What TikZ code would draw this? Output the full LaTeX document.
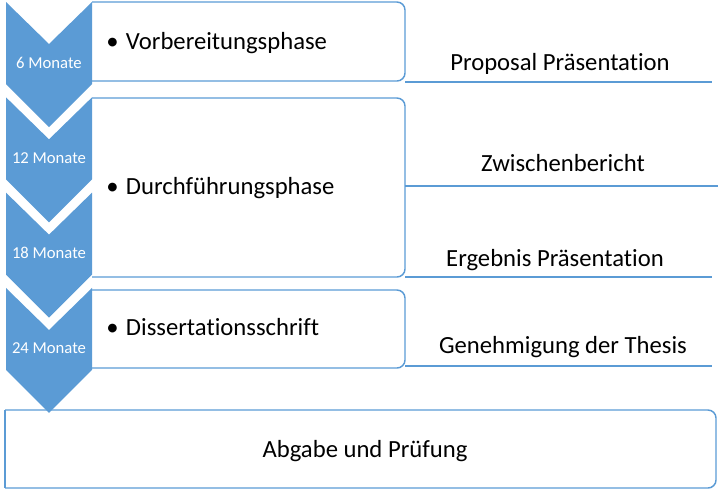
\documentclass[tikz,border=0pt]{standalone}
\usepackage{fontspec}
\setmainfont[Ligatures=NoCommon]{Carlito}
\definecolor{chevblue}{RGB}{91,155,213}

\begin{document}
\begin{tikzpicture}[x=0.75pt, y=-0.75pt,
    chevron/.style={fill=chevblue, draw=none},
    phasebox/.style={draw=chevblue, line width=1.1pt, rounded corners=6pt},
    monthlabel/.style={text=white, font=\fontsize{12.5}{14}\selectfont, anchor=base, inner sep=0},
    phasetext/.style={font=\fontsize{18.5}{22}\selectfont, anchor=base west, inner sep=0},
    milestone/.style={font=\fontsize{18.5}{22}\selectfont, anchor=base, inner sep=0},
    milestoneline/.style={draw=chevblue, line width=0.8pt}]
    \useasboundingbox (0,0) rectangle (718,490);
    % Boxes for the phases
    \draw[phasebox] (92,2) -- (405,2) -- (405,81) -- (92,81);
    \draw[phasebox] (92,98) -- (405,98) -- (405,277) -- (92,277);
    \draw[phasebox] (92,290) -- (405,290) -- (405,368) -- (92,368);
    \draw[phasebox] (5,410) -- (716,410) -- (716,488) -- (5,488);
    \draw[phasebox, sharp corners] (5,410) -- (5,488);
    % Chevrons with months
    \foreach \k/\months in {0/6, 1/12, 2/18, 3/24} {
        \pgfmathsetmacro{\ctop}{2+95.33*\k}
        \fill[chevron] (6,\ctop) -- (49,\ctop+42) -- (92,\ctop) -- (92,\ctop+82)
            -- (49,\ctop+125) -- (6,\ctop+82) -- cycle;
        \node[monthlabel] (m\months) at (49,\ctop+66) {\months{} Monate};
    }
    % Phases
    \node[phasetext] (prep) at (106,49) {\textbullet\hspace{0.3em}Vorbereitungsphase};
    \node[phasetext] (exec) at (106,194) {\textbullet\hspace{0.3em}Durchführungsphase};
    \node[phasetext] (diss) at (106,335) {\textbullet\hspace{0.3em}Dissertationsschrift};
    \node[milestone] (exam) at (365,457) {Abgabe und Prüfung};
    % Milestones on the right
    \node[milestone] (proposal) at (560,70) {Proposal Präsentation};
    \node[milestone] (interim) at (563,171) {Zwischenbericht};
    \node[milestone] (results) at (555,266) {Ergebnis Präsentation};
    \node[milestone] (approval) at (563,353) {Genehmigung der Thesis};
    \draw[milestoneline] (405,82) -- (712,82);
    \draw[milestoneline] (405,186) -- (718,186);
    \draw[milestoneline] (405,277) -- (712,277);
    \draw[milestoneline] (405,366) -- (712,366);
\end{tikzpicture}
\end{document}
